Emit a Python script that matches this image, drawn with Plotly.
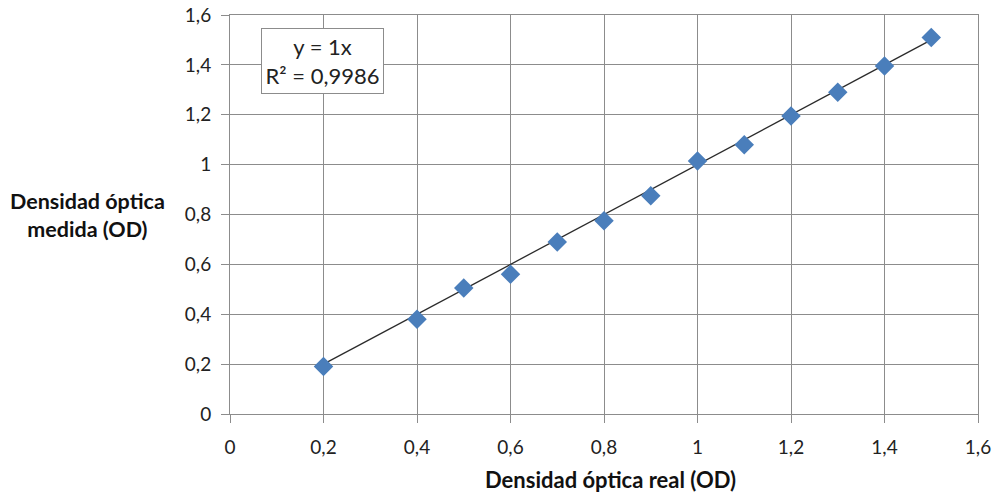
import plotly.graph_objects as go

# Real vs measured optical density
od_real = [0.2, 0.4, 0.5, 0.6, 0.7, 0.8, 0.9, 1.0, 1.1, 1.2, 1.3, 1.4, 1.5]
od_medida = [0.19, 0.38, 0.505, 0.56, 0.69, 0.775, 0.875, 1.015, 1.08, 1.195, 1.29, 1.395, 1.51]

# Linear trend through the origin
slope = 1.0
r2_label = "0,9986"
ticks = [0, 0.2, 0.4, 0.6, 0.8, 1.0, 1.2, 1.4, 1.6]

FONT = "Lato"
GRID = "#8c8c8c"

fig = go.Figure()

trend_x = [min(od_real), max(od_real)]
fig.add_trace(go.Scatter(
    x=trend_x, y=[slope * v for v in trend_x],
    mode="lines", line=dict(color="#2b2b2b", width=1.3),
    hoverinfo="skip", showlegend=False,
))

fig.add_trace(go.Scatter(
    x=od_real, y=od_medida, mode="markers",
    marker=dict(symbol="diamond", size=15, color="#4a7ebb",
                line=dict(width=0)),
    showlegend=False,
))

axis_common = dict(
    range=[0, 1.6], tickvals=ticks, showgrid=True, gridcolor=GRID,
    gridwidth=1, zeroline=False, showline=True, linecolor=GRID,
    linewidth=1, mirror=True, ticks="outside", ticklen=8,
    tickcolor=GRID, tickfont=dict(family=FONT, size=19, color="#222"),
    automargin=False,
)

fig.update_xaxes(**axis_common, tickformat=".1~f", ticklabelstandoff=8)
fig.update_yaxes(**axis_common, tickformat=".1~f", ticklabelstandoff=6)

fig.update_layout(
    width=999, height=495,
    margin=dict(l=230, r=21, t=15, b=81),
    paper_bgcolor="white", plot_bgcolor="white",
    separators=",.",
    font=dict(family=FONT),
    annotations=[
        dict(text="<b>Densidad óptica real (OD)</b>", xref="paper",
             yref="paper", x=0.509, y=-0.165, yanchor="middle",
             showarrow=False, font=dict(family=FONT, size=22, color="#111")),
        dict(text="<b>Densidad óptica<br>medida (OD)</b>", xref="paper",
             yref="paper", x=-0.19, y=0.5, xanchor="center",
             yanchor="middle", showarrow=False,
             font=dict(family=FONT, size=21.5, color="#111")),
        dict(text="y = 1x<br>R² = " + r2_label, xref="paper", yref="paper",
             x=0.123, y=0.885, xanchor="center", yanchor="middle",
             showarrow=False, bgcolor="white", bordercolor=GRID,
             borderwidth=1, borderpad=4, width=113,
             font=dict(family=FONT, size=22, color="#222")),
    ],
)

fig.write_html("out.html")
